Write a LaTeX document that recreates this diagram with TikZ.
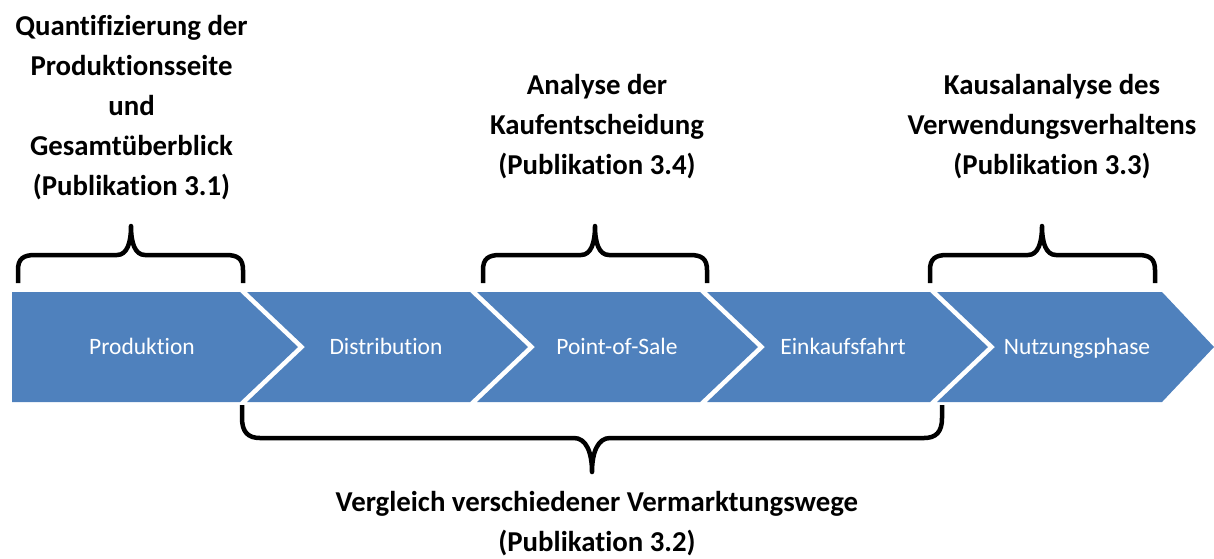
\documentclass[tikz,border=0pt]{standalone}
\usepackage{fontspec}
\setmainfont{Carlito}[Ligatures=NoCommon]
\definecolor{chev}{HTML}{4F81BD}
\newcommand\TopBrace[3]{%
  \draw[brace] (#1,283) -- (#1,270) .. controls (#1,259) and ({#1+5},255) .. ({#1+17},255)
    -- ({#2-14},255) .. controls ({#2-4},255) and (#2,243) .. (#2,226)
    .. controls (#2,243) and ({#2+4},255) .. ({#2+14},255)
    -- ({#3-17},255) .. controls ({#3-5},255) and (#3,259) .. (#3,270) -- (#3,283);}
\begin{document}
\begin{tikzpicture}[x=1pt,y=-1pt,
  chevron/.style={fill=chev, draw=none},
  lbl/.style={text=white, font=\fontsize{23.5}{28}\selectfont, anchor=base, inner sep=0pt},
  title/.style={font=\bfseries\fontsize{28.8}{40}\selectfont, align=center, anchor=base, inner sep=0pt},
  brace/.style={draw=black, line width=4.5pt, line join=round}]
\useasboundingbox (0,0) rectangle (1214,558);
% chevrons
\fill[chevron] (12,292) -- (240,292) -- (298,347) -- (240,402) -- (12,402) -- cycle;
\fill[chevron] (247,292) -- (470,292) -- (528,347) -- (470,402) -- (247,402) -- (305,347) -- cycle;
\fill[chevron] (477,292) -- (700,292) -- (758,347) -- (700,402) -- (477,402) -- (535,347) -- cycle;
\fill[chevron] (707,292) -- (930,292) -- (988,347) -- (930,402) -- (707,402) -- (765,347) -- cycle;
\fill[chevron] (937,292) -- (1162,292) -- (1214,347) -- (1162,402) -- (937,402) -- (995,347) -- cycle;
% labels
\node[lbl] (p1) at (142,354.5) {Produktion};
\node[lbl] (p2) at (386,354.5) {Distribution};
\node[lbl] (p3) at (617,354.5) {Point-of-Sale};
\node[lbl] (p4) at (843,354.5) {Einkaufsfahrt};
\node[lbl] (p5) at (1077,354.5) {Nutzungsphase};
% braces
\TopBrace{18}{131}{243}
\TopBrace{483}{595}{707}
\TopBrace{930}{1042}{1155}
\draw[brace] (242,405) -- (242,418) .. controls (242,432) and (248,438) .. (260,438)
  -- (574,438) .. controls (586,438) and (592,452) .. (592,472)
  .. controls (592,452) and (598,438) .. (610,438)
  -- (924,438) .. controls (936,438) and (942,432) .. (942,418) -- (942,405);
% titles
\node[title] (t1) at (131.5,195) {Quantifizierung der\\Produktionsseite\\und\\Gesamtüberblick\\(Publikation 3.1)};
\node[title] (t2) at (597,174) {Analyse der\\Kaufentscheidung\\(Publikation 3.4)};
\node[title] (t3) at (1052,174) {Kausalanalyse des\\Verwendungsverhaltens\\(Publikation 3.3)};
\node[title] (t4) at (597,551) {Vergleich verschiedener Vermarktungswege\\(Publikation 3.2)};
\end{tikzpicture}
\end{document}
